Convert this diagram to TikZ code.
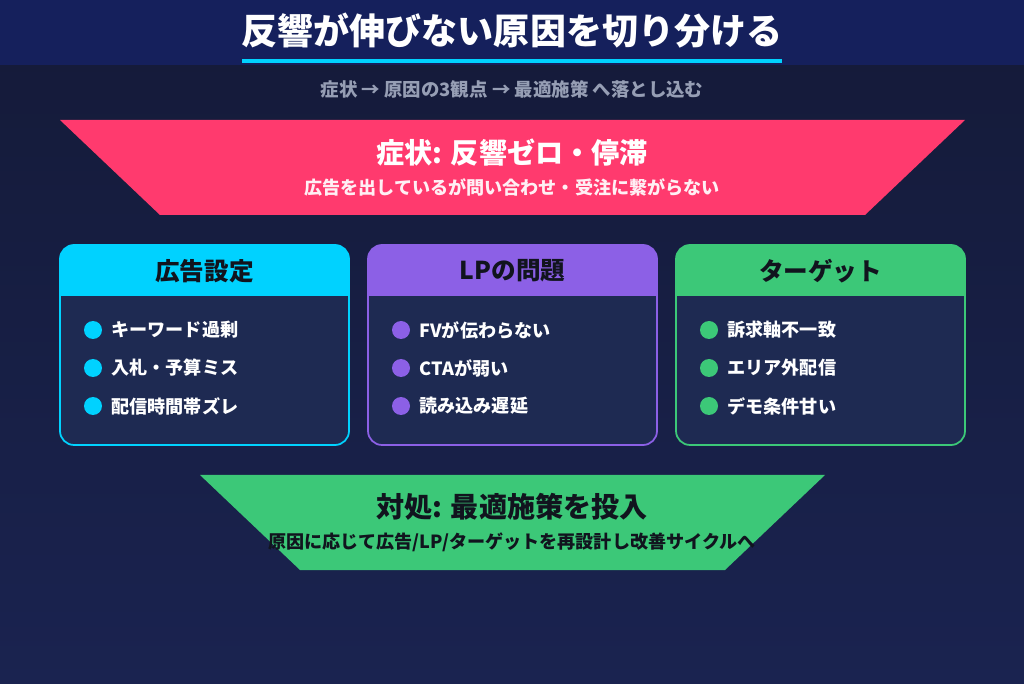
\documentclass[tikz,border=0pt]{standalone}
\usepackage{fontspec}
\setmainfont{Noto Sans CJK JP}
\usetikzlibrary{positioning,calc}
\definecolor{bgtop}{RGB}{20,26,56}
\definecolor{bgbot}{RGB}{26,35,80}
\definecolor{bandblue}{RGB}{21,32,92}
\definecolor{accentcyan}{RGB}{0,210,255}
\definecolor{accentpink}{RGB}{255,58,110}
\definecolor{accentpurple}{RGB}{140,96,230}
\definecolor{accentgreen}{RGB}{60,200,120}
\definecolor{cardbody}{RGB}{30,42,82}
\definecolor{subgray}{RGB}{150,158,180}
\definecolor{darktext}{RGB}{17,20,30}
\begin{document}
\begin{tikzpicture}[x=0.02cm, y=0.02cm,
    cardtitle/.style={font=\bfseries\fontsize{14}{16}\selectfont, text=darktext},
    item/.style={font=\bfseries\fontsize{10.3}{12}\selectfont, text=white, anchor=west},
    dot/.style={circle, minimum size=0.36cm, inner sep=0pt}]
  % background
  \shade[top color=bgtop, bottom color=bgbot] (0,0) rectangle (1024,683);
  \fill[bandblue] (0,618) rectangle (1024,683);
  \node[font=\bfseries\fontsize{20.5}{24}\selectfont, text=white] (title) at (512,652) {反響が伸びない原因を切り分ける};
  \fill[accentcyan] (242,620) rectangle (782,624);
  \node[font=\bfseries\fontsize{10.5}{12}\selectfont, text=subgray] (subtitle) at (512,594) {症状 → 原因の3観点 → 最適施策 へ落とし込む};

  % symptom
  \fill[accentpink] (60,563) -- (965,563) -- (865,468) -- (160,468) -- cycle;
  \node[font=\bfseries\fontsize{16}{18}\selectfont, text=white] (symptom) at (512,530) {症状: 反響ゼロ・停滞};
  \node[font=\bfseries\fontsize{10.3}{12}\selectfont, text=white!92!accentpink] (symptomsub) at (512,496) {広告を出しているが問い合わせ・受注に繋がらない};

  % cards
  \foreach \x/\col/\name/\ttl/\a/\b/\c in {
      60/accentcyan/ad/広告設定/キーワード過剰/入札・予算ミス/配信時間帯ズレ,
      368/accentpurple/lp/LPの問題/FVが伝わらない/CTAが弱い/読み込み遅延,
      676/accentgreen/tgt/ターゲット/訴求軸不一致/エリア外配信/デモ条件甘い} {
    \fill[cardbody, rounded corners=8pt] (\x,238) rectangle ++(289,200);
    \begin{scope}
      \clip[rounded corners=8pt] (\x,238) rectangle ++(289,200);
      \fill[\col] (\x,387) rectangle ++(289,51);
    \end{scope}
    \draw[\col, line width=1pt, rounded corners=8pt] (\x,238) rectangle ++(289,200);
    \node[cardtitle] (\name title) at (\x+144.5,412) {\ttl};
    \node[dot, fill=\col] (\name dot1) at (\x+33,353) {};
    \node[dot, fill=\col] (\name dot2) at (\x+33,315) {};
    \node[dot, fill=\col] (\name dot3) at (\x+33,277) {};
    \node[item, right=0.06cm of \name dot1] {\a};
    \node[item, right=0.06cm of \name dot2] {\b};
    \node[item, right=0.06cm of \name dot3] {\c};
  }

  % remedy
  \fill[accentgreen] (200,208) -- (825,208) -- (725,113) -- (300,113) -- cycle;
  \node[font=\bfseries\fontsize{16}{18}\selectfont, text=darktext] (remedy) at (512,176) {対処: 最適施策を投入};
  \node[font=\bfseries\fontsize{10.3}{12}\selectfont, text=darktext] (remedysub) at (512,141) {原因に応じて広告/LP/ターゲットを再設計し改善サイクルへ};
\end{tikzpicture}
\end{document}
